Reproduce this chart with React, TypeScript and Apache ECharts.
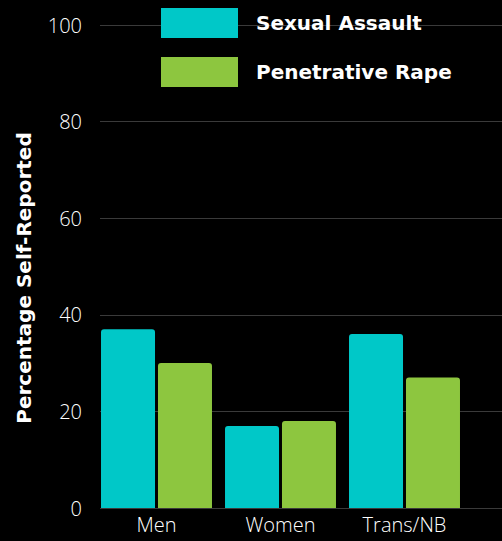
import React, { useEffect, useRef } from "react";
import * as echarts from "echarts";

const categories = ["Men", "Women", "Trans/NB"];
const sexualAssault = [37, 17, 36];
const penetrativeRape = [30, 18, 27];
const seriesNames = ["Sexual Assault", "Penetrative Rape"];
const yTicks = { min: 0, max: 100, interval: 20 };
const yTitle = "Percentage Self-Reported";

const TEAL = "#00C8C8";
const GREEN = "#8DC63F";
const FONT = "'Open Sans', Lato, sans-serif";
const BOLD_FONT = "'DejaVu Sans', 'Open Sans', sans-serif";

export default function App() {
  const ref = useRef<HTMLDivElement>(null);

  useEffect(() => {
    if (!ref.current) return;
    const chart = echarts.init(ref.current, null, { renderer: "svg" });
    chart.setOption({
      animation: false,
      backgroundColor: "#000000",
      textStyle: { fontFamily: FONT },
      legend: {
        orient: "vertical",
        left: 161,
        top: 8,
        padding: 0,
        itemWidth: 77,
        itemHeight: 30,
        itemGap: 19,
        icon: "rect",
        data: seriesNames,
        textStyle: {
          color: "#ffffff",
          fontSize: 20,
          fontWeight: "bold",
          fontFamily: BOLD_FONT,
          padding: [0, 0, 0, 13],
        },
      },
      graphic: [
        {
          type: "text",
          x: 24,
          y: 278,
          rotation: Math.PI / 2,
          style: {
            text: yTitle,
            fill: "#ffffff",
            fontSize: 20,
            fontWeight: "bold",
            fontFamily: BOLD_FONT,
            align: "center",
            verticalAlign: "middle",
          },
        },
      ],
      grid: [
        // value grid: gridlines and tick labels
        { left: 100, right: 0, top: 25, bottom: 33 },
        // bar grid: category slots
        { left: 94.5, width: 372, top: 25, bottom: 33 },
      ],
      xAxis: [
        {
          gridIndex: 0,
          type: "value",
          show: false,
        },
        {
          gridIndex: 1,
          type: "category",
          data: categories,
          axisLine: { show: false },
          axisTick: { show: false },
          axisLabel: {
            color: "#ffffff",
            fontSize: 20,
            fontWeight: 300,
            fontFamily: FONT,
            margin: 6,
          },
        },
      ],
      yAxis: [
        {
          gridIndex: 0,
          type: "value",
          min: yTicks.min,
          max: yTicks.max,
          interval: yTicks.interval,
          axisLine: { show: false },
          axisTick: { show: false },
          axisLabel: {
            color: "#ffffff",
            fontSize: 20,
            fontWeight: 300,
            fontFamily: FONT,
            margin: 18,
          },
          splitLine: { lineStyle: { color: "#3a3a3a", width: 1 } },
        },
        {
          gridIndex: 1,
          type: "value",
          min: yTicks.min,
          max: yTicks.max,
          show: false,
        },
      ],
      series: [
        {
          name: seriesNames[0],
          type: "bar",
          xAxisIndex: 1,
          yAxisIndex: 1,
          data: sexualAssault,
          barWidth: 54,
          barGap: "5.5%",
          itemStyle: { color: TEAL, borderRadius: [3, 3, 0, 0] },
        },
        {
          name: seriesNames[1],
          type: "bar",
          xAxisIndex: 1,
          yAxisIndex: 1,
          data: penetrativeRape,
          barWidth: 54,
          barGap: "5.5%",
          itemStyle: { color: GREEN, borderRadius: [3, 3, 0, 0] },
        },
      ],
    });
    return () => chart.dispose();
  }, []);

  return (
    <div
      ref={ref}
      style={{ width: 502, height: 541, position: "fixed", left: 0, top: 0 }}
    />
  );
}
